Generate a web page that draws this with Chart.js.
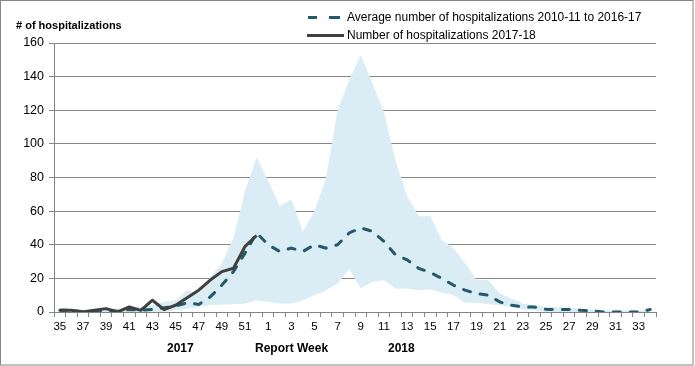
<!DOCTYPE html>
<html>
<head>
<meta charset="utf-8">
<script src="https://cdn.jsdelivr.net/npm/chart.js@4/dist/chart.umd.min.js"></script>
<style>
  html, body { margin: 0; padding: 0; background: #fff; }
  #wrap { position: relative; width: 695px; height: 366px; font-family: "Liberation Sans", Arial, sans-serif; color: #000; }
  canvas { position: absolute; left: 0; top: 0; }
  .t { position: absolute; white-space: nowrap; line-height: 1; }
  .b { font-weight: bold; }
</style>
</head>
<body>
<div id="wrap">
  <canvas id="c" width="695" height="366"></canvas>
  <div class="t b" style="left:16px; top:20px; font-size:11px;"># of hospitalizations</div>
  <div class="t" style="left:347px; top:11px; font-size:12px;">Average number of hospitalizations 2010-11 to 2016-17</div>
  <div class="t" style="left:347px; top:29px; font-size:12px;">Number of hospitalizations 2017-18</div>
  <div class="t b" style="left:167px; top:342px; font-size:12px;">2017</div>
  <div class="t b" style="left:255px; top:342px; font-size:12px;">Report Week</div>
  <div class="t b" style="left:388px; top:342px; font-size:12px;">2018</div>
</div>
<script>
// Report weeks (2017 week 35 through 2018 week 34)
const weeks = ['35','36','37','38','39','40','41','42','43','44','45','46','47','48','49','50','51','52',
  '1','2','3','4','5','6','7','8','9','10','11','12','13','14','15','16','17','18','19','20','21','22',
  '23','24','25','26','27','28','29','30','31','32','33','34'];

// Number of hospitalizations 2017-18 (reported through week 52)
const current = [1, 1, 0, 1, 2, 0, 3, 1, 7, 1.5, 4, 8.5, 13, 19, 24, 26, 39, 45.5];

// Average number of hospitalizations 2010-11 to 2016-17
const average = [1, 1, 0, 0.5, 1, 0.5, 1.5, 1, 1.5, 2.5, 3.5, 5.5, 4.5, 9, 16, 24, 35, 47,
  40, 36, 38, 36, 40, 38, 40, 47, 50, 48, 42, 34, 31, 26, 23.5, 20, 16, 13, 11, 10, 6, 4,
  3, 3, 1.6, 1.5, 1.5, 1, 0.7, 0, 0, 0, 0, 1.5];

// Range of previous seasons (lower and upper bounds of the shaded band)
const rangeLow = [0, 0, 0, 0, 0, 0, 0, 0, 0, 0, 1, 2, 3, 4, 4.5, 4.6, 5, 7,
  6, 5, 5, 7, 10, 13, 17, 25.5, 14, 18, 19, 14, 14, 13, 13.5, 11.5, 10, 5.5, 5.5, 4.6, 4, 3,
  1.5, 1, 0, 0, 0, 0, 0, 0, 0, 0, 0, 0];
const rangeHigh = [2, 2, 1.5, 2, 3, 2, 3, 3, 4, 6, 7, 13, 11, 21, 29, 44, 72, 92,
  78, 63, 67, 48, 60, 80, 120, 138, 153, 136, 119, 90, 69, 57, 57, 43, 38, 29, 19, 19, 11, 8,
  5, 4, 3, 3, 2.5, 2, 1.5, 1, 1, 1, 1, 1.5];

const yTicks = [0, 20, 40, 60, 80, 100, 120, 140, 160];

const GRID = '#868686';
const TEAL = '#23596A';
const DARK = '#404040';
const BAND = 'rgb(218,237,244)';

const extras = {
  id: 'extras',
  afterDraw(chart) {
    const ctx = chart.ctx;
    ctx.save();
    // outer border
    ctx.strokeStyle = GRID;
    ctx.lineWidth = 1;
    ctx.strokeRect(0.5, 0.5, 692.5, 364.5);
    // legend samples
    ctx.lineWidth = 3;
    ctx.strokeStyle = TEAL;
    ctx.beginPath();
    ctx.moveTo(308, 17.5); ctx.lineTo(317, 17.5);
    ctx.moveTo(329, 17.5); ctx.lineTo(340, 17.5);
    ctx.stroke();
    ctx.strokeStyle = DARK;
    ctx.beginPath();
    ctx.moveTo(307, 35.5); ctx.lineTo(344, 35.5);
    ctx.stroke();
    ctx.restore();
  }
};

new Chart(document.getElementById('c'), {
  type: 'line',
  data: {
    labels: weeks,
    datasets: [
      { label: 'low', data: rangeLow, borderWidth: 0, pointRadius: 0, fill: false, order: 3, borderColor: 'rgba(0,0,0,0)' },
      { label: 'high', data: rangeHigh, borderWidth: 0, pointRadius: 0, fill: '-1', backgroundColor: BAND, order: 2, borderColor: 'rgba(0,0,0,0)' },
      { label: 'Average number of hospitalizations 2010-11 to 2016-17', data: average, borderColor: TEAL, borderWidth: 3,
        borderDash: [7, 10], borderCapStyle: 'round', pointRadius: 0, fill: false, order: 1 },
      { label: 'Number of hospitalizations 2017-18', data: current, borderColor: DARK, borderWidth: 3,
        borderJoinStyle: 'round', pointRadius: 0, fill: false, order: 0 }
    ]
  },
  options: {
    responsive: false,
    animation: false,
    events: [],
    elements: { line: { tension: 0 } },
    layout: { padding: { top: 43, right: 39, bottom: 30, left: 0 } },
    plugins: { legend: { display: false }, tooltip: { enabled: false } },
    scales: {
      x: {
        type: 'category',
        offset: true,
        afterFit(s) { s.height = 24; },
        grid: { drawOnChartArea: false, drawTicks: true, tickLength: 5, color: GRID, offset: true },
        border: { display: true, color: GRID, width: 1 },
        ticks: {
          autoSkip: false, maxRotation: 0, minRotation: 0, padding: 3, color: '#000',
          font: { family: '"Liberation Sans", Arial, sans-serif', size: 11.5 },
          callback(v, i) { return i % 2 === 0 ? weeks[i] : ''; }
        }
      },
      y: {
        min: 0, max: 160,
        afterFit(s) { s.width = 54; },
        afterBuildTicks(s) { s.ticks = yTicks.map(v => ({ value: v })); },
        grid: { color: GRID, tickLength: 5, lineWidth: 1 },
        border: { display: true, color: GRID, width: 1 },
        ticks: { padding: 5, color: '#000', font: { family: '"Liberation Sans", Arial, sans-serif', size: 12.5 } }
      }
    }
  },
  plugins: [extras]
});
</script>
</body>
</html>
